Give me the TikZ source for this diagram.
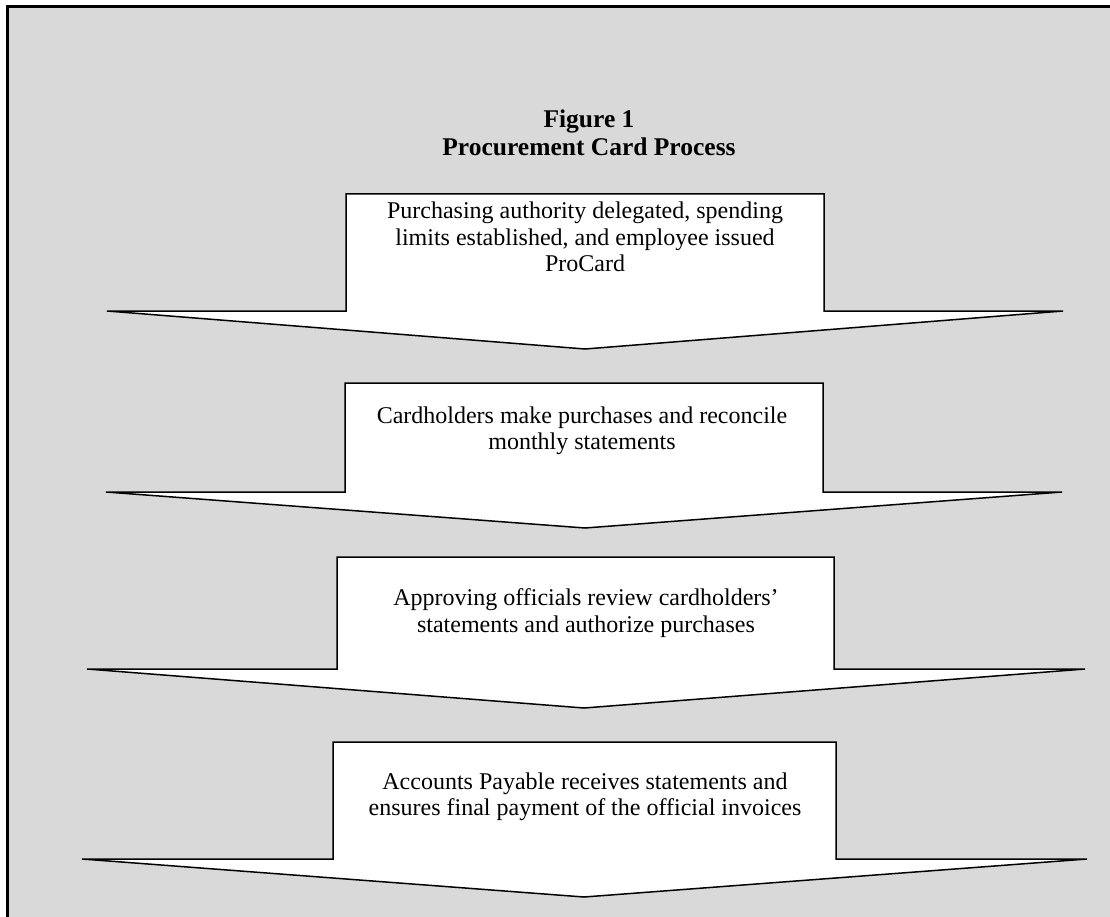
\documentclass[tikz,border=0pt]{standalone}
\usepackage{fontspec}
\setmainfont{Liberation Serif}
\definecolor{panel}{HTML}{D9D9D9}
\tikzset{
  arrowshape/.style={draw=black, fill=white, line width=1.5pt, line join=miter},
  steptext/.style={align=center, font=\fontsize{24}{26.5}\selectfont, inner sep=0pt},
  titletext/.style={align=center, font=\fontsize{25.5}{28}\selectfont\bfseries, inner sep=0pt}
}
\begin{document}
\begin{tikzpicture}[x=1pt,y=-1pt]
\useasboundingbox (0,0) rectangle (1110,917);
\fill[white] (0,0) rectangle (1110,917);
\begin{scope}
\clip (0,0) rectangle (1110,917);
\draw[line width=3pt, fill=panel] (7,7) rectangle (1130,940);
\end{scope}
% title
\node[titletext] (title) at (589,133) {Figure 1\\Procurement Card Process};
% arrow 1
\draw[arrowshape] (346,194) -- (824,194) -- (824,311) -- (1063,311) -- (585,349) -- (107,311) -- (346,311) -- cycle;
\node[steptext] (s1) at (585,237) {Purchasing authority delegated, spending\\limits established, and employee issued\\ProCard};
% arrow 2
\draw[arrowshape] (345,383) -- (823,383) -- (823,492) -- (1062,492) -- (585,528) -- (106,492) -- (345,492) -- cycle;
\node[steptext] (s2) at (582,431) {Cardholders make purchases and reconcile\\monthly statements};
% arrow 3
\draw[arrowshape] (337,557) -- (834,557) -- (834,669) -- (1085,669) -- (584,708) -- (87,669) -- (337,669) -- cycle;
\node[steptext] (s3) at (586,613) {Approving officials review cardholders'\\statements and authorize purchases};
% arrow 4
\draw[arrowshape] (333,742) -- (836,742) -- (836,859) -- (1087,859) -- (584,897) -- (82,859) -- (333,859) -- cycle;
\node[steptext] (s4) at (585,797) {Accounts Payable receives statements and\\ensures final payment of the official invoices};
\end{tikzpicture}
\end{document}
